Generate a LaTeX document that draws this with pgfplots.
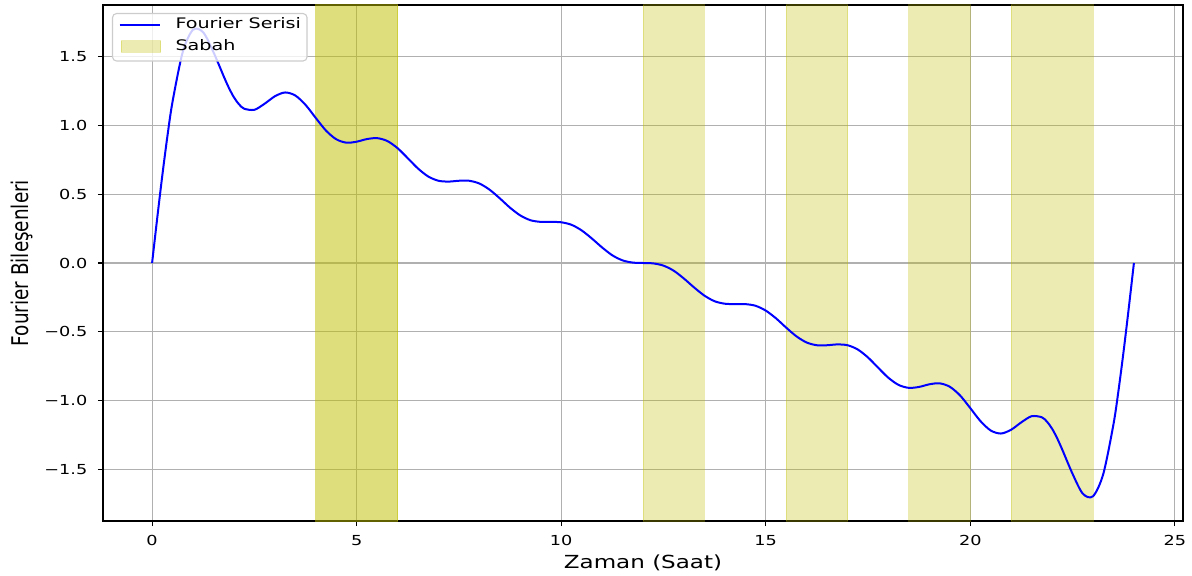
\documentclass[border=0pt]{standalone}
\usepackage{pgfplots}
\pgfplotsset{compat=1.18}
\usepackage{fontspec}
\setmainfont{DejaVu Sans}
\newfontfamily\tickfont{DejaVu Sans}[FakeStretch=1.28]
\newfontfamily\labfont{DejaVu Sans}[FakeStretch=1.28]
\newfontfamily\ylabfont{DejaVu Sans}[FakeStretch=0.80]
\newfontfamily\legfont{DejaVu Sans}[FakeStretch=1.32]
\definecolor{spancol}{rgb}{0.75,0.75,0}
\definecolor{gridgray}{HTML}{B0B0B0}
\pgfplotsset{spanstyle/.style={fill=spancol, fill opacity=0.3, draw=spancol, draw opacity=0.3, line width=1pt, forget plot}}

\pgfplotstableread{
t y
0 0
0.125 0.325
0.25 0.637
0.375 0.923
0.5 1.173
0.75 1.535
1.0 1.696
1.25 1.677
1.5 1.533
1.75 1.358
1.875 1.275
2.0 1.205
2.125 1.154
2.25 1.122
2.5 1.114
2.75 1.158
3.0 1.212
3.25 1.240
3.5 1.218
3.75 1.150
4.0 1.055
4.25 0.963
4.5 0.900
4.75 0.875
5.0 0.882
5.25 0.901
5.5 0.908
5.75 0.887
6.0 0.835
6.25 0.762
6.5 0.687
6.75 0.629
7.0 0.598
7.25 0.592
7.5 0.598
7.75 0.598
8.0 0.578
8.25 0.533
8.5 0.470
8.75 0.402
9.0 0.346
9.25 0.311
9.5 0.299
9.75 0.299
10.0 0.296
10.25 0.278
10.5 0.237
10.75 0.178
11.0 0.113
11.25 0.056
11.5 0.019
11.75 0.003
12.0 0
12.25 -0.003
12.5 -0.019
12.75 -0.056
13.0 -0.113
13.25 -0.178
13.5 -0.237
13.75 -0.278
14.0 -0.296
14.25 -0.299
14.5 -0.299
14.75 -0.311
15.0 -0.346
15.25 -0.402
15.5 -0.470
15.75 -0.533
16.0 -0.578
16.25 -0.598
16.5 -0.598
16.75 -0.592
17.0 -0.598
17.25 -0.629
17.5 -0.687
17.75 -0.762
18.0 -0.835
18.25 -0.887
18.5 -0.908
18.75 -0.901
19.0 -0.882
19.25 -0.875
19.5 -0.900
19.75 -0.963
20.0 -1.055
20.25 -1.150
20.5 -1.218
20.75 -1.240
21.0 -1.212
21.25 -1.158
21.5 -1.114
21.75 -1.122
21.875 -1.154
22.0 -1.205
22.125 -1.275
22.25 -1.358
22.5 -1.533
22.75 -1.677
23.0 -1.696
23.25 -1.535
23.5 -1.173
23.625 -0.923
23.75 -0.637
23.875 -0.325
24.0 0
}\fourier

\begin{document}
\begin{tikzpicture}
\begin{axis}[
  scale only axis, width=1080pt, height=516pt,
  xmin=-1.2, xmax=25.2, ymin=-1.876, ymax=1.876,
  xtick={0,5,10,15,20,25}, xticklabels={0,5,10,15,20,25},
  ytick={-1.5,-1,-0.5,0,0.5,1,1.5},
  yticklabels={−1.5,−1.0,−0.5,0.0,0.5,1.0,1.5},
  grid=major, grid style={color=gridgray, line width=1.1pt},
  axis line style={line width=1.1pt, black},
  tick align=outside, tick pos=left,
  major tick length=5pt,
  every tick/.style={black, line width=1.1pt},
  tick label style={font=\tickfont\fontsize{13.8}{16}\selectfont, inner sep=0pt, black},
  xticklabel style={yshift=-9pt},
  yticklabel style={xshift=-10.5pt},
  xlabel={Zaman (Saat)}, ylabel={Fourier Bileşenleri},
  xlabel style={at={(axis description cs:0.5,-0.0802)}, anchor=center, font=\labfont\fontsize{18}{21}\selectfont, inner sep=0pt},
  ylabel style={at={(axis description cs:-0.075,0.5)}, anchor=center, font=\ylabfont\fontsize{23}{27}\selectfont, inner sep=0pt},
  legend cell align=left,
  legend style={at={(axis description cs:0.00833,0.9845)}, anchor=north west,
    draw=black!20, line width=1.1pt, rounded corners=4pt, fill=white, fill opacity=0.8,
    draw opacity=1, text opacity=1, inner xsep=6pt, inner ysep=8pt,
    row sep=11.45pt, column sep=14.5pt,
    nodes={inner sep=0pt, text height=0.73em, text depth=0pt},
    font=\legfont\fontsize{14.5}{17}\selectfont},
]
\addplot[spanstyle] coordinates {(4,-1.876) (4,1.876) (6,1.876) (6,-1.876)} -- cycle;
\addplot[spanstyle] coordinates {(4,-1.876) (4,1.876) (6,1.876) (6,-1.876)} -- cycle;
\addplot[spanstyle] coordinates {(12,-1.876) (12,1.876) (13.5,1.876) (13.5,-1.876)} -- cycle;
\addplot[spanstyle] coordinates {(15.5,-1.876) (15.5,1.876) (17,1.876) (17,-1.876)} -- cycle;
\addplot[spanstyle] coordinates {(18.5,-1.876) (18.5,1.876) (20,1.876) (20,-1.876)} -- cycle;
\addplot[spanstyle] coordinates {(21,-1.876) (21,1.876) (23,1.876) (23,-1.876)} -- cycle;

\addplot[color=blue, line width=2pt, smooth,
  legend image code/.code={\draw[blue, line width=2pt, sharp corners] (0pt,0pt) -- (40pt,0pt);}]
  table[x=t, y=y] {\fourier};
\addlegendentry{Fourier Serisi}
\addlegendimage{legend image code/.code={\path[sharp corners, fill=spancol, fill opacity=0.3, draw=spancol, draw opacity=0.3, line width=1pt] (1.5pt,-5.85pt) rectangle (41pt,5.85pt);}}
\addlegendentry{Sabah}
\end{axis}
\pgfresetboundingbox
\path[use as bounding box] ([xshift=-103pt,yshift=-54pt]current axis.south west) rectangle ([xshift=9pt,yshift=5pt]current axis.north east);
\end{tikzpicture}
\end{document}
